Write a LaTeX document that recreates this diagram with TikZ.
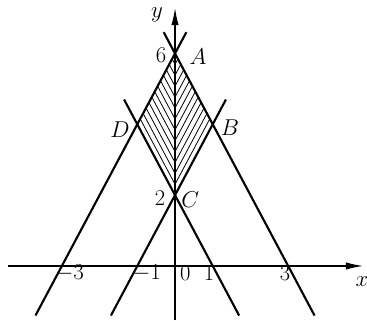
\documentclass[tikz,border=0pt]{standalone}
\usepackage{amsmath,amssymb}
\usepackage{tikz}
\usetikzlibrary{arrows.meta,calc}

\begin{document}
\begin{tikzpicture}[x=1cm, y=0.939cm, font=\fontsize{17}{20}\selectfont]
        \useasboundingbox (-4.64,-1.53) rectangle (5.09,7.51);

        % Corners of the region
        \coordinate (A) at (0,6);
        \coordinate (B) at (1,4);
        \coordinate (C) at (0,2);
        \coordinate (D) at (-1,4);

        % Hatching (left half parallel to DC, right half parallel to CB)
        \foreach \k in {1,...,12} {
            \draw[line width=0.6pt] ($(D)!\k/13!(A)$) -- (0, 2+4*\k/13);
            \draw[line width=0.6pt] ($(B)!\k/13!(A)$) -- (0, 2+4*\k/13);
        }

        % Axes
        \draw[line width=1pt, -{Latex[length=13pt,width=5.5pt]}] (-4.43,0) -- (4.99,0);
        \draw[line width=1pt, -{Latex[length=13pt,width=5.5pt]}] (0,-1.53) -- (0,7.29);

        % Lines y = 2x+6, y = -2x+6, y = 2x+2, y = -2x+2
        \draw[line width=1.6pt] (-3.7,-1.4) -- (0.3,6.6);
        \draw[line width=1.6pt] (3.7,-1.4) -- (-0.3,6.6);
        \draw[line width=1.6pt] (-1.7,-1.4) -- (1.35,4.7);
        \draw[line width=1.6pt] (1.7,-1.4) -- (-1.35,4.7);

        % Axis labels
        \node at (-0.48,7.09) {$y$};
        \node at (4.96,-0.45) {$x$};

        % Y Ticks
        \node at (-0.37,5.96) {6};
        \node at (-0.40,1.92) {2};

        % X Ticks
        \node at (-2.79,-0.2) {$-3$};
        \node at (-0.75,-0.2) {$-1$};
        \node at (0.27,-0.2) {0};
        \node at (0.9,-0.2) {1};
        \node at (2.92,-0.2) {3};

        % Corner labels
        \node at (0.61,5.9) {$A$};
        \node at (1.46,3.9) {$B$};
        \node at (0.40,1.88) {$C$};
        \node at (-1.46,3.84) {$D$};
\end{tikzpicture}
\end{document}
